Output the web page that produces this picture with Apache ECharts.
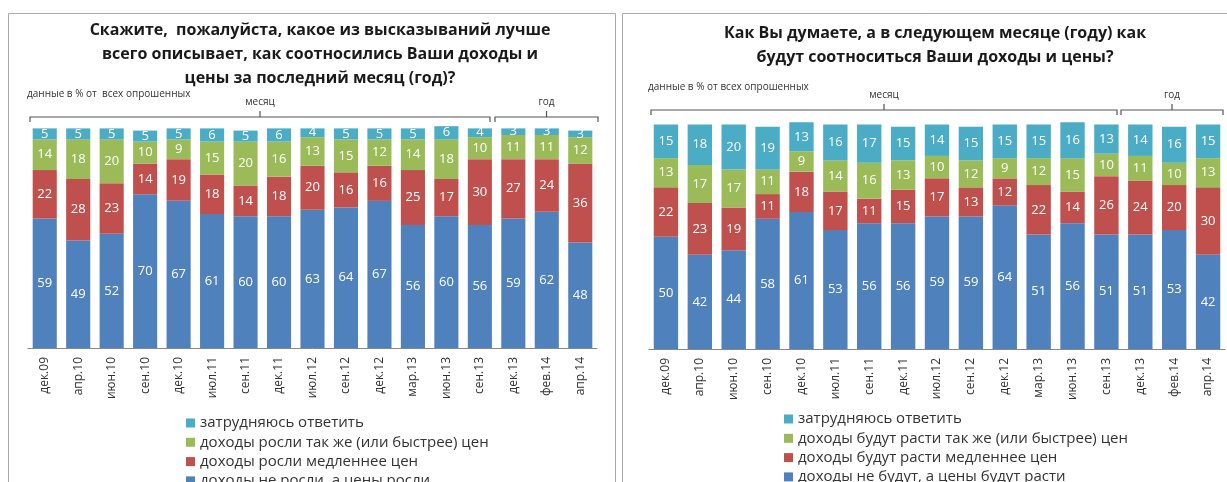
<!DOCTYPE html>
<html>
<head>
<meta charset="utf-8">
<script src="https://cdn.jsdelivr.net/npm/echarts@6/dist/echarts.min.js"></script>
<style>
  html, body { margin: 0; padding: 0; background: #fff; }
  #chart { width: 1227px; height: 482px; }
</style>
</head>
<body>
<div id="chart"></div>
<script>
const categories = ["дек.09", "апр.10", "июн.10", "сен.10", "дек.10", "июл.11", "сен.11", "дек.11", "июл.12", "сен.12", "дек.12", "мар.13", "июн.13", "сен.13", "дек.13", "фев.14", "апр.14"];

// левая диаграмма: последний месяц (год)
const pastNoGrowth = [59, 49, 52, 70, 67, 61, 60, 60, 63, 64, 67, 56, 60, 56, 59, 62, 48];
const pastSlower = [22, 28, 23, 14, 19, 18, 14, 18, 20, 16, 16, 25, 17, 30, 27, 24, 36];
const pastSame = [14, 18, 20, 10, 9, 15, 20, 16, 13, 15, 12, 14, 18, 10, 11, 11, 12];
const pastDontKnow = [5, 5, 5, 5, 5, 6, 5, 6, 4, 5, 5, 5, 6, 4, 3, 3, 3];

// правая диаграмма: следующий месяц (год)
const nextNoGrowth = [50, 42, 44, 58, 61, 53, 56, 56, 59, 59, 64, 51, 56, 51, 51, 53, 42];
const nextSlower = [22, 23, 19, 11, 18, 17, 11, 15, 17, 13, 12, 22, 14, 26, 24, 20, 30];
const nextSame = [13, 17, 17, 11, 9, 14, 16, 13, 10, 12, 9, 12, 15, 10, 11, 10, 13];
const nextDontKnow = [15, 18, 20, 19, 13, 16, 17, 15, 14, 15, 15, 15, 16, 13, 14, 16, 15];

const pastNames = ["доходы не росли, а цены росли", "доходы росли медленнее цен", "доходы росли так же (или быстрее) цен", "затрудняюсь ответить"];
const nextNames = ["доходы не будут, а цены будут расти", "доходы будут расти медленнее цен", "доходы будут расти так же (или быстрее) цен", "затрудняюсь ответить "];

const colors = ["#4F81BD", "#C0504D", "#9BBB59", "#4BACC6"];
const font = "'Open Sans', 'Noto Sans', sans-serif";

function makeSeries(names, arrays, idx) {
  return arrays.map((d, i) => ({
    name: names[i],
    type: "bar",
    stack: "s" + idx,
    xAxisIndex: idx,
    yAxisIndex: idx,
    data: d,
    barCategoryGap: "28%",
    itemStyle: { color: colors[i] },
    label: {
      show: true,
      position: "inside",
      color: "#fff",
      fontSize: 13,
      fontFamily: font,
    },
  }));
}

function bracket(x1, x2, y, label) {
  const mid = (x1 + x2) / 2;
  return [
    {
      type: "polyline",
      shape: { points: [[x1, y + 5], [x1, y], [x2, y], [x2, y + 5]] },
      style: { stroke: "#555", lineWidth: 1.2, fill: null },
    },
    {
      type: "line",
      shape: { x1: mid, y1: y, x2: mid, y2: y - 6 },
      style: { stroke: "#555", lineWidth: 1.2 },
    },
    {
      type: "text",
      style: { text: label, x: mid, y: y - 10, textAlign: "center", textVerticalAlign: "bottom", fontSize: 10, fontFamily: font, fill: "#333" },
    },
  ];
}

const xAxisBase = {
  type: "category",
  data: categories,
  axisLine: { lineStyle: { color: "#888" } },
  axisTick: { lineStyle: { color: "#888" }, length: 5 },
  axisLabel: { rotate: 90, color: "#333", fontSize: 12, fontFamily: font, margin: 9 },
};
const yAxisBase = {
  type: "value",
  min: 0,
  max: 102,
  show: false,
  splitLine: { show: false },
};

const legendBase = {
  orient: "vertical",
  height: 120,
  itemWidth: 9,
  itemHeight: 9,
  itemGap: 3.3,
  icon: "rect",
  padding: 0,
  textStyle: { fontSize: 15, lineHeight: 16, color: "#333", fontFamily: font },
};

const chart = echarts.init(document.getElementById("chart"));
chart.setOption({
  animation: false,
  grid: [
    { left: 28, right: 630, top: 124, bottom: 134 },
    { left: 649, right: 2, top: 120, bottom: 133 },
  ],
  xAxis: [
    Object.assign({ gridIndex: 0 }, xAxisBase),
    Object.assign({ gridIndex: 1 }, xAxisBase),
  ],
  yAxis: [
    Object.assign({ gridIndex: 0 }, yAxisBase),
    Object.assign({ gridIndex: 1 }, yAxisBase),
  ],
  legend: [
    Object.assign({}, legendBase, { data: pastNames.slice().reverse(), left: 186, top: 415 }),
    Object.assign({}, legendBase, { data: nextNames.slice().reverse(), left: 784, top: 411 }),
  ],
  graphic: [
    { type: "rect", shape: { x: 8.5, y: 13.5, width: 607, height: 480 }, style: { stroke: "#aaa", fill: null, lineWidth: 1 } },
    { type: "rect", shape: { x: 622.5, y: 13.5, width: 620, height: 480 }, style: { stroke: "#aaa", fill: null, lineWidth: 1 } },
    {
      type: "text",
      style: {
        text: "Скажите,  пожалуйста, какое из высказываний лучше\nвсего описывает, как соотносились Ваши доходы и\nцены за последний месяц (год)?",
        x: 320, y: 18, textAlign: "center", fontSize: 16, fontWeight: "bold", lineHeight: 24, fontFamily: font, fill: "#1a1a1a",
      },
    },
    {
      type: "text",
      style: {
        text: "Как Вы думаете, а в следующем месяце (году) как\nбудут соотноситься Ваши доходы и цены?",
        x: 935, y: 21, textAlign: "center", fontSize: 16, fontWeight: "bold", lineHeight: 24, fontFamily: font, fill: "#1a1a1a",
      },
    },
    { type: "text", style: { text: "данные в % от  всех опрошенных", x: 27, y: 89, fontSize: 10, fontFamily: font, fill: "#333" } },
    { type: "text", style: { text: "данные в % от всех опрошенных", x: 648, y: 82, fontSize: 10, fontFamily: font, fill: "#333" } },
  ]
    .concat(bracket(30, 490, 117, "месяц"))
    .concat(bracket(495, 598, 117, "год"))
    .concat(bracket(651, 1117, 110, "месяц"))
    .concat(bracket(1121, 1223, 110, "год")),
  series: makeSeries(pastNames, [pastNoGrowth, pastSlower, pastSame, pastDontKnow], 0)
    .concat(makeSeries(nextNames, [nextNoGrowth, nextSlower, nextSame, nextDontKnow], 1)),
});
</script>
</body>
</html>
